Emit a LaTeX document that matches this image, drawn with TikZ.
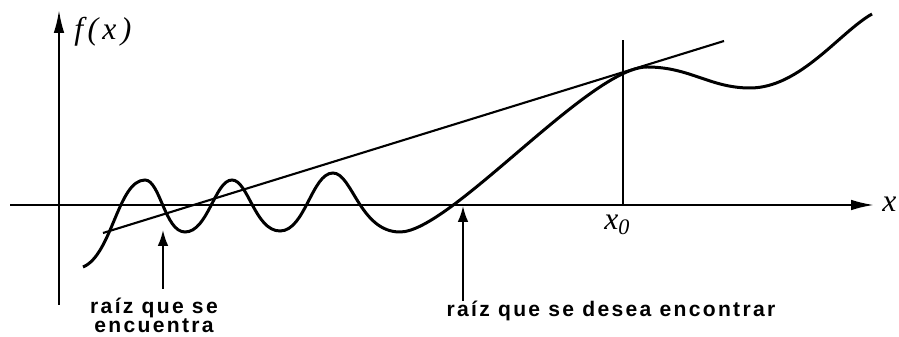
\documentclass[tikz,border=0pt]{standalone}
\usepackage{fontspec}
\setmainfont{Liberation Serif}
\newfontfamily\lblfont[LetterSpace=11]{Liberation Sans}
\newfontfamily\varfont[LetterSpace=14]{Liberation Serif}
\usetikzlibrary{arrows.meta}

\begin{document}
\begin{tikzpicture}[x=0.02cm, y=-0.02cm,
  axis/.style={line width=1.2pt, -{Latex[length=13pt, width=6pt]}},
  curve/.style={line width=1.7pt},
  tangent/.style={line width=1.2pt},
  rootarrow/.style={line width=1.1pt, -{Latex[length=9pt, width=6pt]}},
  lbl/.style={font=\lblfont\bfseries\fontsize{12}{10.2}\selectfont, inner sep=0pt},
  var/.style={font=\varfont\itshape\fontsize{18}{18}\selectfont, inner sep=0pt}]
\useasboundingbox (0,0) rectangle (899,337);
% axes
\coordinate (xl) at (10,205);
\coordinate (xr) at (874,205);
\coordinate (yb) at (59,305);
\coordinate (yt) at (59,10);
\draw[axis] (xl) -- (xr);
\draw[axis] (yb) -- (yt);
\node[var, anchor=base west] (fx) at (74,40) {f(x)};
\node[var, anchor=base west] (xlab) at (882,212) {x};
% starting point and tangent
\coordinate (x0) at (623,205);
\coordinate (x0top) at (623,40);
\draw[line width=0.9pt] (x0) -- (x0top);
\node[var, anchor=base west] (x0lab) at (604,230) {x\textsubscript{0}};
\coordinate (t0) at (103,233);
\coordinate (t1) at (724,41);
\draw[tangent] (t0) -- (t1);
% the function
\draw[curve] (83,267) .. controls (112,255) and (118,180) .. (145,180)
  .. controls (160,180) and (165,232) .. (185,232)
  .. controls (208,232) and (215,180) .. (232,180)
  .. controls (248,180) and (255,231) .. (280,231)
  .. controls (305,231) and (312,173) .. (333,173)
  .. controls (352,173) and (360,232) .. (400,232)
  .. controls (450,232) and (590,67) .. (647,67)
  .. controls (690,67) and (710,88) .. (750,88)
  .. controls (800,88) and (840,32) .. (872,14);
% roots
\coordinate (root1) at (163,230);
\coordinate (root1tail) at (163,289);
\coordinate (root2) at (463,206);
\coordinate (root2tail) at (463,301);
\draw[rootarrow] (root1tail) -- (root1);
\draw[rootarrow] (root2tail) -- (root2);
\node[lbl, align=center, anchor=base] (r1) at (154,333) {raíz que se\\encuentra};
\node[lbl, anchor=base] (r2) at (611,317) {raíz que se desea encontrar};
\end{tikzpicture}
\end{document}
